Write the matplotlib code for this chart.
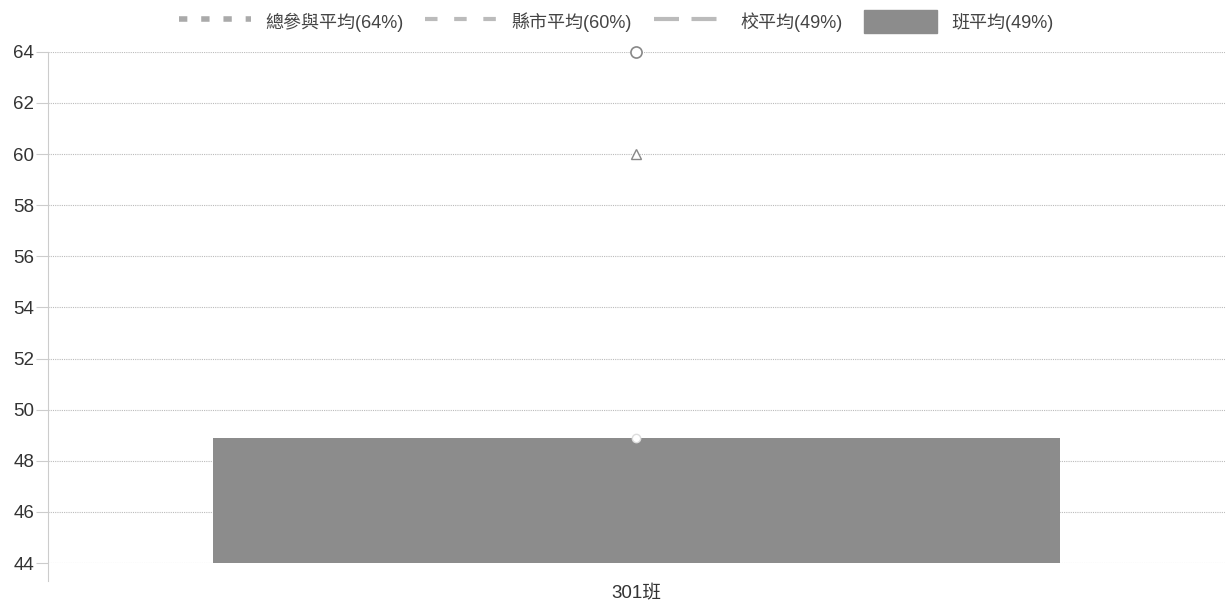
import matplotlib
matplotlib.use("Agg")
import matplotlib.pyplot as plt
from matplotlib.lines import Line2D
from matplotlib.patches import Patch

plt.rcParams['font.family'] = ['Liberation Sans', 'Noto Sans CJK TC', 'DejaVu Sans']

categories = ["301班"]
class_avg = [48.9]
overall_avg = [64]
county_avg = [60]
school_avg = [48.9]
legend_labels = ["總參與平均(64%)", "縣市平均(60%)", "校平均(49%)", "班平均(49%)"]
yticks = [44, 46, 48, 50, 52, 54, 56, 58, 60, 62, 64]

fig = plt.figure(figsize=(12.32, 6.1), dpi=100)
ax = fig.add_axes([0.039, 0.077, 0.955, 0.838])

x = list(range(len(categories)))
ax.bar(x, [v - 44 for v in class_avg], bottom=44, width=0.72, color="#8c8c8c", zorder=2)
ax.plot(x, overall_avg, linestyle="none", marker="o", markersize=8, markerfacecolor="white",
        markeredgecolor="#888888", markeredgewidth=1.2, zorder=3, clip_on=False)
ax.plot(x, county_avg, linestyle="none", marker="^", markersize=7, markerfacecolor="white",
        markeredgecolor="#888888", markeredgewidth=1.0, zorder=3)
ax.plot(x, school_avg, linestyle="none", marker="o", markersize=6, markerfacecolor="white",
        markeredgecolor="#dddddd", markeredgewidth=1.0, zorder=3)

ax.set_xlim(-0.5, 0.5)
ax.set_ylim(44, 64)
ax.set_yticks(yticks)
ax.set_xticks(x)
ax.set_xticklabels(categories)
ax.tick_params(axis="y", labelsize=13.5, colors="#333333", length=9, width=0.8,
               color="#cccccc", pad=1)
ax.tick_params(axis="x", labelsize=13.5, colors="#333333", length=0, pad=16)
ax.grid(axis="y", color="#bbbbbb", linestyle=(0, (1, 1)), linewidth=0.8, zorder=0)
for s in ["top", "right", "bottom"]:
    ax.spines[s].set_visible(False)
ax.spines["left"].set_color("#cccccc")
ax.spines["left"].set_linestyle((0, (1, 1)))
ax.spines["left"].set_bounds(43.3, 64)

handles = [
    Line2D([0], [0], color="#aaaaaa", linestyle=(0, (1.5, 2.5)), linewidth=4),
    Line2D([0], [0], color="#bbbbbb", linestyle=(0, (3, 4)), linewidth=3),
    Line2D([0], [0], color="#bbbbbb", linestyle=(0, (6, 3)), linewidth=3),
    Patch(facecolor="#8c8c8c", edgecolor="#8c8c8c"),
]
fig.legend(handles, legend_labels, loc="upper center", bbox_to_anchor=(0.5, 1.01), ncol=4,
           frameon=False, fontsize=13, labelcolor="#444444", handlelength=4, handleheight=1.6,
           columnspacing=1.2, handletextpad=0.8)

fig.savefig("out.png", dpi=100)
